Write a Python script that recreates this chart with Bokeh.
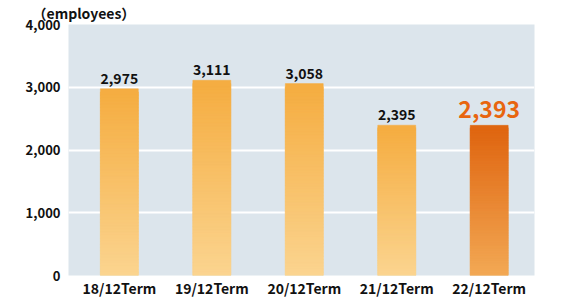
from bokeh.plotting import figure
from bokeh.models import Label, FixedTicker, NumeralTickFormatter
from bokeh.embed import file_html
from bokeh.resources import INLINE

categories = ["18/12Term", "19/12Term", "20/12Term", "21/12Term", "22/12Term"]
values = [2975, 3111, 3058, 2395, 2393]
value_labels = ["2,975", "3,111", "3,058", "2,395", "2,393"]
y_ticks = [0, 1000, 2000, 3000, 4000]
highlight_index = 4
unit_title = "（employees）"

FONT = "Noto Sans CJK JP"

def hex2rgb(h):
    h = h.lstrip("#")
    return tuple(int(h[i:i + 2], 16) for i in (0, 2, 4))

def mix(c1, c2, t):
    a, b = hex2rgb(c1), hex2rgb(c2)
    return "#%02x%02x%02x" % tuple(round(a[i] + (b[i] - a[i]) * t) for i in range(3))

p = figure(width=563, height=300, output_backend="svg", toolbar_location=None,
           x_range=(-0.55, 4.49), y_range=(0, 4000),
           min_border_left=68, min_border_right=29, min_border_top=24, min_border_bottom=0)
p.title.text = unit_title
p.title.align = "left"
p.title.vertical_align = "top"
p.title.offset = -36
p.title.standoff = 0
p.title.text_font = FONT
p.title.text_font_style = "bold"
p.title.text_font_size = "14px"
p.title.text_color = "#111111"

p.background_fill_color = "#dce5ec"
p.border_fill_color = "white"
p.outline_line_color = None
p.xgrid.grid_line_color = None
p.ygrid.grid_line_color = "white"
p.ygrid.grid_line_width = 2
p.ygrid.ticker = FixedTicker(ticks=y_ticks)

# gradient bars built from stacked, slightly overlapping slices
N = 60
w = 0.41
ls, rs, bs, ts, cs = [], [], [], [], []
for i, v in enumerate(values):
    if i == highlight_index:
        top_c, bot_c = "#df6510", "#f3aa56"
    else:
        top_c, bot_c = "#f5ad41", "#fbd591"
    step = v / N
    for k in range(N):
        b = step * k
        t = step * (k + 1)
        frac = (k + 0.5) / N
        ls.append(i - w / 2); rs.append(i + w / 2)
        bs.append(max(0, b - step)); ts.append(t)
        cs.append(mix(bot_c, top_c, frac))
p.quad(left=ls, right=rs, bottom=bs, top=ts, fill_color=cs, line_color=cs, line_width=0.5)

for i, (v, lab) in enumerate(zip(values, value_labels)):
    if i == highlight_index:
        p.add_layout(Label(x=i, y=v, text=lab, text_align="center", text_baseline="bottom",
                           y_offset=7, text_font=FONT, text_font_style="bold",
                           text_font_size="23px", text_color="#e8650f"))
    else:
        p.add_layout(Label(x=i, y=v, text=lab, text_align="center", text_baseline="bottom",
                           y_offset=5, text_font=FONT, text_font_style="bold",
                           text_font_size="14px", text_color="#111111"))

p.yaxis.ticker = FixedTicker(ticks=y_ticks)
p.yaxis.formatter = NumeralTickFormatter(format="0,0")
p.xaxis.ticker = FixedTicker(ticks=list(range(len(categories))))
p.xaxis.major_label_overrides = {i: c for i, c in enumerate(categories)}
for ax in (p.xaxis[0], p.yaxis[0]):
    ax.axis_line_color = None
    ax.major_tick_line_color = None
    ax.minor_tick_line_color = None
    ax.major_tick_out = 0
    ax.major_tick_in = 0
    ax.minor_tick_out = 0
    ax.minor_tick_in = 0
    ax.major_label_text_font = FONT
    ax.major_label_text_font_style = "bold"
    ax.major_label_text_color = "#111111"
p.yaxis.major_label_text_font_size = "13px"
p.xaxis.major_label_text_font_size = "14px"
p.yaxis.major_label_standoff = 8
p.xaxis.major_label_standoff = 2

open("out.html", "w").write(file_html(p, INLINE))
